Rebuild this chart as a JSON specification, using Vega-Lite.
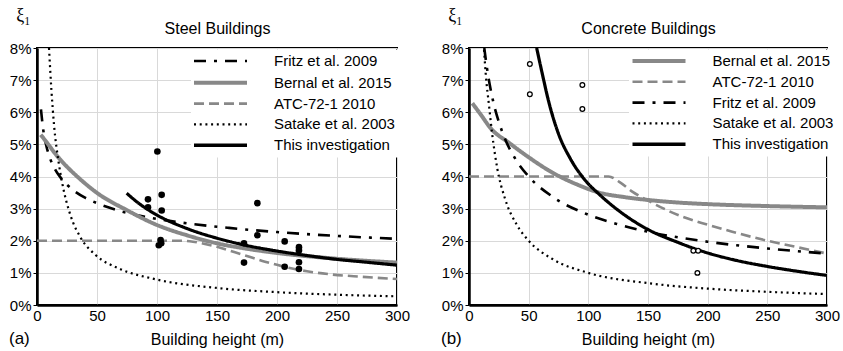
{
  "$schema": "https://vega.github.io/schema/vega-lite/v6.json",
  "padding": {"left": 8, "top": 5, "right": 5, "bottom": 2},
  "spacing": 72,
  "bounds": "flush",
  "datasets": {
    "steel_lines": [
      {"series": "Fritz et al. 2009", "x": 3.3, "y": 6.09}, {"series": "Fritz et al. 2009", "x": 5, "y": 5.51}, {"series": "Fritz et al. 2009", "x": 8, "y": 4.92}, {"series": "Fritz et al. 2009", "x": 10, "y": 4.66}, {"series": "Fritz et al. 2009", "x": 15, "y": 4.23}, {"series": "Fritz et al. 2009", "x": 20, "y": 3.95}, {"series": "Fritz et al. 2009", "x": 30, "y": 3.58}, {"series": "Fritz et al. 2009", "x": 40, "y": 3.34}, {"series": "Fritz et al. 2009", "x": 50, "y": 3.17}, {"series": "Fritz et al. 2009", "x": 70, "y": 2.92}, {"series": "Fritz et al. 2009", "x": 100, "y": 2.68}, {"series": "Fritz et al. 2009", "x": 130, "y": 2.52}, {"series": "Fritz et al. 2009", "x": 160, "y": 2.40}, {"series": "Fritz et al. 2009", "x": 200, "y": 2.27}, {"series": "Fritz et al. 2009", "x": 250, "y": 2.15}, {"series": "Fritz et al. 2009", "x": 300, "y": 2.06},
      {"series": "Bernal et al. 2015", "x": 3.1, "y": 5.3}, {"series": "Bernal et al. 2015", "x": 10, "y": 4.97}, {"series": "Bernal et al. 2015", "x": 15, "y": 4.72}, {"series": "Bernal et al. 2015", "x": 20, "y": 4.5}, {"series": "Bernal et al. 2015", "x": 26.7, "y": 4.24}, {"series": "Bernal et al. 2015", "x": 35, "y": 3.95}, {"series": "Bernal et al. 2015", "x": 50, "y": 3.49}, {"series": "Bernal et al. 2015", "x": 75, "y": 2.95}, {"series": "Bernal et al. 2015", "x": 100, "y": 2.49}, {"series": "Bernal et al. 2015", "x": 125, "y": 2.17}, {"series": "Bernal et al. 2015", "x": 150, "y": 1.92}, {"series": "Bernal et al. 2015", "x": 175, "y": 1.75}, {"series": "Bernal et al. 2015", "x": 200, "y": 1.62}, {"series": "Bernal et al. 2015", "x": 250, "y": 1.44}, {"series": "Bernal et al. 2015", "x": 300, "y": 1.32},
      {"series": "ATC-72-1 2010", "x": 0, "y": 2}, {"series": "ATC-72-1 2010", "x": 120, "y": 2}, {"series": "ATC-72-1 2010", "x": 130, "y": 1.97}, {"series": "ATC-72-1 2010", "x": 140, "y": 1.9}, {"series": "ATC-72-1 2010", "x": 150, "y": 1.81}, {"series": "ATC-72-1 2010", "x": 165, "y": 1.64}, {"series": "ATC-72-1 2010", "x": 177, "y": 1.5}, {"series": "ATC-72-1 2010", "x": 190, "y": 1.35}, {"series": "ATC-72-1 2010", "x": 204, "y": 1.21}, {"series": "ATC-72-1 2010", "x": 225, "y": 1.05}, {"series": "ATC-72-1 2010", "x": 243, "y": 0.96}, {"series": "ATC-72-1 2010", "x": 270, "y": 0.88}, {"series": "ATC-72-1 2010", "x": 300, "y": 0.81},
      {"series": "Satake et al. 2003", "x": 10, "y": 8.0}, {"series": "Satake et al. 2003", "x": 12, "y": 6.7}, {"series": "Satake et al. 2003", "x": 14.2, "y": 5.6}, {"series": "Satake et al. 2003", "x": 18, "y": 4.45}, {"series": "Satake et al. 2003", "x": 21, "y": 3.8}, {"series": "Satake et al. 2003", "x": 28, "y": 2.78}, {"series": "Satake et al. 2003", "x": 36, "y": 2.12}, {"series": "Satake et al. 2003", "x": 49, "y": 1.55}, {"series": "Satake et al. 2003", "x": 68, "y": 1.14}, {"series": "Satake et al. 2003", "x": 99, "y": 0.8}, {"series": "Satake et al. 2003", "x": 150, "y": 0.53}, {"series": "Satake et al. 2003", "x": 200, "y": 0.4}, {"series": "Satake et al. 2003", "x": 250, "y": 0.32}, {"series": "Satake et al. 2003", "x": 300, "y": 0.27},
      {"series": "This investigation", "x": 74.7, "y": 3.48}, {"series": "This investigation", "x": 85, "y": 3.16}, {"series": "This investigation", "x": 100, "y": 2.80}, {"series": "This investigation", "x": 125, "y": 2.38}, {"series": "This investigation", "x": 150, "y": 2.08}, {"series": "This investigation", "x": 175, "y": 1.85}, {"series": "This investigation", "x": 200, "y": 1.68}, {"series": "This investigation", "x": 225, "y": 1.54}, {"series": "This investigation", "x": 250, "y": 1.42}, {"series": "This investigation", "x": 275, "y": 1.33}, {"series": "This investigation", "x": 300, "y": 1.24}
    ],
    "steel_pts": [
      {"x": 100.3, "y": 4.78}, {"x": 92.5, "y": 3.29}, {"x": 92.5, "y": 3.04}, {"x": 103.9, "y": 3.43}, {"x": 103.9, "y": 2.94}, {"x": 101.5, "y": 1.86}, {"x": 103.5, "y": 1.92}, {"x": 103, "y": 2.02}, {"x": 172.5, "y": 1.92}, {"x": 172.5, "y": 1.32}, {"x": 183.6, "y": 3.17}, {"x": 183.6, "y": 2.17}, {"x": 206.4, "y": 1.98}, {"x": 206.4, "y": 1.19}, {"x": 218.3, "y": 1.8}, {"x": 218.3, "y": 1.7}, {"x": 218.3, "y": 1.33}, {"x": 218.3, "y": 1.12}
    ],
    "conc_lines": [
      {"series": "Bernal et al. 2015", "x": 2.8, "y": 6.28}, {"series": "Bernal et al. 2015", "x": 10, "y": 5.92}, {"series": "Bernal et al. 2015", "x": 18.2, "y": 5.5}, {"series": "Bernal et al. 2015", "x": 33.5, "y": 5.05}, {"series": "Bernal et al. 2015", "x": 50, "y": 4.6}, {"series": "Bernal et al. 2015", "x": 70, "y": 4.12}, {"series": "Bernal et al. 2015", "x": 90, "y": 3.76}, {"series": "Bernal et al. 2015", "x": 109, "y": 3.5}, {"series": "Bernal et al. 2015", "x": 130, "y": 3.36}, {"series": "Bernal et al. 2015", "x": 150, "y": 3.27}, {"series": "Bernal et al. 2015", "x": 175, "y": 3.19}, {"series": "Bernal et al. 2015", "x": 200, "y": 3.14}, {"series": "Bernal et al. 2015", "x": 250, "y": 3.08}, {"series": "Bernal et al. 2015", "x": 300, "y": 3.04},
      {"series": "ATC-72-1 2010", "x": 0, "y": 4}, {"series": "ATC-72-1 2010", "x": 117, "y": 4}, {"series": "ATC-72-1 2010", "x": 125.6, "y": 3.84}, {"series": "ATC-72-1 2010", "x": 136.8, "y": 3.53}, {"series": "ATC-72-1 2010", "x": 150, "y": 3.25}, {"series": "ATC-72-1 2010", "x": 178.7, "y": 2.75}, {"series": "ATC-72-1 2010", "x": 200, "y": 2.5}, {"series": "ATC-72-1 2010", "x": 220.6, "y": 2.28}, {"series": "ATC-72-1 2010", "x": 250, "y": 2.0}, {"series": "ATC-72-1 2010", "x": 275, "y": 1.8}, {"series": "ATC-72-1 2010", "x": 300, "y": 1.6},
      {"series": "Fritz et al. 2009", "x": 12.8, "y": 8.0}, {"series": "Fritz et al. 2009", "x": 15, "y": 7.39}, {"series": "Fritz et al. 2009", "x": 20, "y": 6.38}, {"series": "Fritz et al. 2009", "x": 25, "y": 5.7}, {"series": "Fritz et al. 2009", "x": 30, "y": 5.19}, {"series": "Fritz et al. 2009", "x": 40, "y": 4.48}, {"series": "Fritz et al. 2009", "x": 50, "y": 4.0}, {"series": "Fritz et al. 2009", "x": 70, "y": 3.37}, {"series": "Fritz et al. 2009", "x": 100, "y": 2.81}, {"series": "Fritz et al. 2009", "x": 125, "y": 2.51}, {"series": "Fritz et al. 2009", "x": 150, "y": 2.28}, {"series": "Fritz et al. 2009", "x": 200, "y": 1.97}, {"series": "Fritz et al. 2009", "x": 250, "y": 1.76}, {"series": "Fritz et al. 2009", "x": 300, "y": 1.6},
      {"series": "Satake et al. 2003", "x": 12.6, "y": 7.94}, {"series": "Satake et al. 2003", "x": 14, "y": 7.2}, {"series": "Satake et al. 2003", "x": 16.8, "y": 6.2}, {"series": "Satake et al. 2003", "x": 19.5, "y": 5.3}, {"series": "Satake et al. 2003", "x": 23.7, "y": 4.25}, {"series": "Satake et al. 2003", "x": 30, "y": 3.33}, {"series": "Satake et al. 2003", "x": 40, "y": 2.5}, {"series": "Satake et al. 2003", "x": 50, "y": 2.0}, {"series": "Satake et al. 2003", "x": 70, "y": 1.43}, {"series": "Satake et al. 2003", "x": 100, "y": 1.0}, {"series": "Satake et al. 2003", "x": 150, "y": 0.68}, {"series": "Satake et al. 2003", "x": 200, "y": 0.51}, {"series": "Satake et al. 2003", "x": 250, "y": 0.41}, {"series": "Satake et al. 2003", "x": 300, "y": 0.34},
      {"series": "This investigation", "x": 56.7, "y": 8.0}, {"series": "This investigation", "x": 61.4, "y": 7.2}, {"series": "This investigation", "x": 67, "y": 6.3}, {"series": "This investigation", "x": 74.8, "y": 5.35}, {"series": "This investigation", "x": 85, "y": 4.55}, {"series": "This investigation", "x": 97, "y": 3.9}, {"series": "This investigation", "x": 109, "y": 3.45}, {"series": "This investigation", "x": 125, "y": 2.95}, {"series": "This investigation", "x": 150, "y": 2.35}, {"series": "This investigation", "x": 175, "y": 1.95}, {"series": "This investigation", "x": 200, "y": 1.62}, {"series": "This investigation", "x": 225, "y": 1.38}, {"series": "This investigation", "x": 250, "y": 1.2}, {"series": "This investigation", "x": 275, "y": 1.05}, {"series": "This investigation", "x": 300, "y": 0.92}
    ],
    "conc_pts": [
      {"x": 51, "y": 7.5}, {"x": 51, "y": 6.56}, {"x": 95, "y": 6.85}, {"x": 95, "y": 6.1}, {"x": 188, "y": 1.69}, {"x": 192, "y": 1.69}, {"x": 191.4, "y": 1.0}
    ]
  },
  "hconcat": [
    {
      "width": 360, "height": 257,
      "title": {"text": "(a)", "orient": "bottom", "anchor": "start", "frame": "group", "dx": -28, "offset": -16, "fontSize": 17},
      "resolve": {"axis": {"x": "independent"}},
      "layer": [
        {
          "data": {"name": "steel_lines"},
          "mark": {"type": "line", "interpolate": "monotone", "clip": true},
          "encoding": {
            "x": {"field": "x", "type": "quantitative", "scale": {"domain": [0, 300], "nice": false},
                  "axis": {"orient": "bottom", "values": [0, 50, 100, 150, 200, 250, 300], "title": "Building height (m)", "titleFontSize": 16, "titlePadding": 8, "ticks": false, "labelPadding": 3, "labelFlush": false, "labelOverlap": false, "grid": true}},
            "y": {"field": "y", "type": "quantitative", "scale": {"domain": [0, 8], "nice": false},
                  "axis": {"values": [0, 1, 2, 3, 4, 5, 6, 7, 8], "labelExpr": "datum.value + '%'", "title": "ξ₁", "tickSize": 4, "labelPadding": 2, "grid": true}},
            "color": {"field": "series", "type": "nominal",
                      "scale": {"domain": ["Fritz et al. 2009", "Bernal et al. 2015", "ATC-72-1 2010", "Satake et al. 2003", "This investigation"], "range": ["#000000", "#888888", "#888888", "#000000", "#000000"]},
                      "legend": {"title": null, "orient": "none", "legendX": 154, "legendY": 1.5, "fillColor": "white", "padding": 4, "symbolType": "stroke", "symbolSize": 2809, "symbolOffset": 18, "labelFontSize": 15, "labelColor": "black", "labelOffset": 46, "rowPadding": 4.8,
                                 "encode": {"symbols": {"update": {"strokeWidth": {"signal": "datum.value === 'Bernal et al. 2015' ? 4 : datum.value === 'This investigation' ? 3.5 : datum.value === 'Satake et al. 2003' ? 2.2 : 2.6"}}}}}},
            "strokeDash": {"field": "series", "type": "nominal",
                           "scale": {"domain": ["Fritz et al. 2009", "Bernal et al. 2015", "ATC-72-1 2010", "Satake et al. 2003", "This investigation"], "range": [[12, 8, 3, 8], [1, 0], [10, 5], [2, 3.7], [1, 0]]},
                           "legend": {"title": null, "orient": "none", "legendX": 154, "legendY": 1.5, "fillColor": "white", "padding": 4, "symbolType": "stroke", "symbolSize": 2809, "symbolOffset": 18, "labelFontSize": 15, "labelColor": "black", "labelOffset": 46, "rowPadding": 4.8,
                                 "encode": {"symbols": {"update": {"strokeWidth": {"signal": "datum.value === 'Bernal et al. 2015' ? 4 : datum.value === 'This investigation' ? 3.5 : datum.value === 'Satake et al. 2003' ? 2.2 : 2.6"}}}}}},
            "strokeWidth": {"condition": [{"test": "datum.series === 'Bernal et al. 2015'", "value": 4}, {"test": "datum.series === 'This investigation'", "value": 3.2}, {"test": "datum.series === 'Satake et al. 2003'", "value": 2.2}], "value": 2.6}
          }
        },
        {
          "data": {"name": "steel_pts"},
          "mark": {"type": "point", "shape": "circle", "filled": true, "color": "black", "size": 44, "opacity": 1},
          "encoding": {
            "x": {"field": "x", "type": "quantitative", "scale": {"domain": [0, 300], "nice": false},
                  "axis": {"orient": "top", "labels": false, "ticks": false, "domain": false, "grid": false, "title": "Steel Buildings", "titleFontSize": 16, "titlePadding": 12}},
            "y": {"field": "y", "type": "quantitative", "scale": {"domain": [0, 8], "nice": false},
                  "axis": {"values": [0, 1, 2, 3, 4, 5, 6, 7, 8], "labelExpr": "datum.value + '%'", "title": "ξ₁", "tickSize": 4, "labelPadding": 2, "grid": true}}
          }
        }
      ]
    },
    {
      "width": 358, "height": 257,
      "title": {"text": "(b)", "orient": "bottom", "anchor": "start", "frame": "group", "dx": -28, "offset": -16, "fontSize": 17},
      "resolve": {"axis": {"x": "independent"}},
      "layer": [
        {
          "data": {"name": "conc_lines"},
          "mark": {"type": "line", "interpolate": "monotone", "clip": true},
          "encoding": {
            "x": {"field": "x", "type": "quantitative", "scale": {"domain": [0, 300], "nice": false},
                  "axis": {"orient": "bottom", "values": [0, 50, 100, 150, 200, 250, 300], "title": "Building height (m)", "titleFontSize": 16, "titlePadding": 8, "ticks": false, "labelPadding": 3, "labelFlush": false, "labelOverlap": false, "grid": true}},
            "y": {"field": "y", "type": "quantitative", "scale": {"domain": [0, 8], "nice": false},
                  "axis": {"values": [0, 1, 2, 3, 4, 5, 6, 7, 8], "labelExpr": "datum.value + '%'", "title": "ξ₁", "tickSize": 4, "labelPadding": 2, "grid": true}},
            "color": {"field": "series", "type": "nominal",
                      "scale": {"domain": ["Bernal et al. 2015", "ATC-72-1 2010", "Fritz et al. 2009", "Satake et al. 2003", "This investigation"], "range": ["#888888", "#888888", "#000000", "#000000", "#000000"]},
                      "legend": {"title": null, "orient": "none", "legendX": 160, "legendY": 1.5, "fillColor": "white", "padding": 4, "symbolType": "stroke", "symbolSize": 2809, "symbolOffset": 18.5, "labelFontSize": 15, "labelColor": "black", "labelOffset": 46, "rowPadding": 4.8,
                                 "encode": {"symbols": {"update": {"strokeWidth": {"signal": "datum.value === 'Bernal et al. 2015' ? 4 : datum.value === 'This investigation' ? 3.5 : datum.value === 'Satake et al. 2003' ? 2.2 : 2.6"}}}}}},
            "strokeDash": {"field": "series", "type": "nominal",
                           "scale": {"domain": ["Bernal et al. 2015", "ATC-72-1 2010", "Fritz et al. 2009", "Satake et al. 2003", "This investigation"], "range": [[1, 0], [10, 5], [12, 8, 3, 8], [2, 3.7], [1, 0]]},
                           "legend": {"title": null, "orient": "none", "legendX": 160, "legendY": 1.5, "fillColor": "white", "padding": 4, "symbolType": "stroke", "symbolSize": 2809, "symbolOffset": 18.5, "labelFontSize": 15, "labelColor": "black", "labelOffset": 46, "rowPadding": 4.8,
                                 "encode": {"symbols": {"update": {"strokeWidth": {"signal": "datum.value === 'Bernal et al. 2015' ? 4 : datum.value === 'This investigation' ? 3.5 : datum.value === 'Satake et al. 2003' ? 2.2 : 2.6"}}}}}},
            "strokeWidth": {"condition": [{"test": "datum.series === 'Bernal et al. 2015'", "value": 4}, {"test": "datum.series === 'This investigation'", "value": 3.2}, {"test": "datum.series === 'Satake et al. 2003'", "value": 2.2}], "value": 2.6}
          }
        },
        {
          "data": {"name": "conc_pts"},
          "mark": {"type": "point", "shape": "circle", "filled": true, "fill": "white", "stroke": "black", "strokeWidth": 1.3, "size": 22, "opacity": 1},
          "encoding": {
            "x": {"field": "x", "type": "quantitative", "scale": {"domain": [0, 300], "nice": false},
                  "axis": {"orient": "top", "labels": false, "ticks": false, "domain": false, "grid": false, "title": "Concrete Buildings", "titleFontSize": 16, "titlePadding": 12}},
            "y": {"field": "y", "type": "quantitative", "scale": {"domain": [0, 8], "nice": false},
                  "axis": {"values": [0, 1, 2, 3, 4, 5, 6, 7, 8], "labelExpr": "datum.value + '%'", "title": "ξ₁", "tickSize": 4, "labelPadding": 2, "grid": true}}
          }
        }
      ]
    }
  ],
  "resolve": {"scale": {"color": "independent", "strokeDash": "independent", "x": "independent", "y": "independent"}, "legend": {"color": "independent", "strokeDash": "independent"}},
  "config": {
    "font": "Liberation Sans",
    "view": {"stroke": "black", "strokeWidth": 2},
    "axis": {"labelFontSize": 15, "labelColor": "black", "titleColor": "black", "titleFontWeight": "normal", "gridColor": "#d9d9d9", "gridWidth": 1, "domainColor": "black", "domainWidth": 2.5, "tickColor": "black", "tickWidth": 1},
    "axisY": {"titleAngle": 0, "titleFont": "Liberation Serif", "titleFontSize": 18, "titleAlign": "right", "titleBaseline": "bottom", "titleX": -7, "titleY": -24},
    "title": {"fontWeight": "normal", "color": "black"},
    "legend": {"labelFont": "Liberation Sans"}
  }
}
